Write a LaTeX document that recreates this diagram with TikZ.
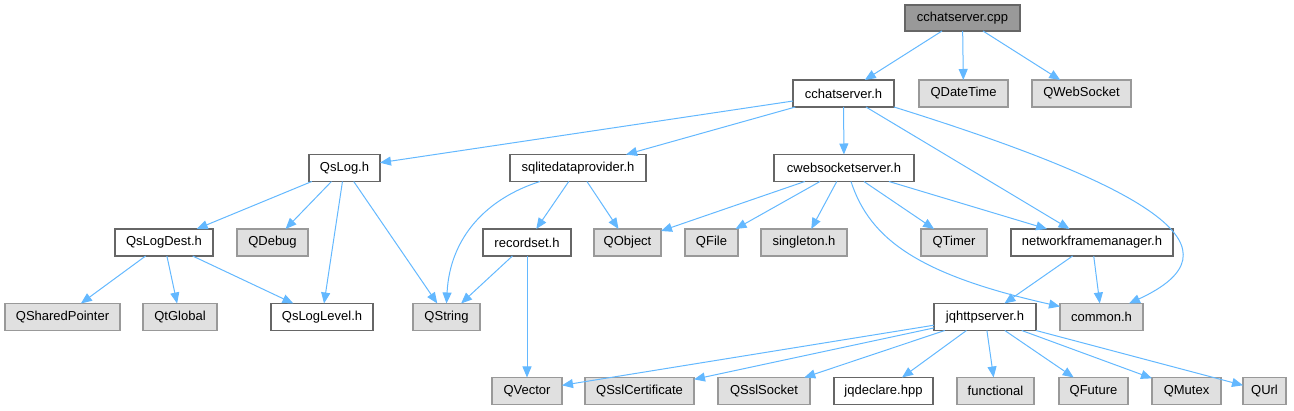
\documentclass[tikz,border=0pt]{standalone}
\usepackage{fontspec}
\setmainfont{Liberation Sans}
\usetikzlibrary{arrows.meta}

\definecolor{edgeblue}{HTML}{63B8FF}
\definecolor{extfill}{HTML}{E0E0E0}
\definecolor{extline}{HTML}{999999}
\definecolor{rootfill}{HTML}{999999}
\definecolor{fileline}{HTML}{666666}

\begin{document}
\begin{tikzpicture}[
  x=1pt, y=-1pt,
  box/.style={draw=fileline, line width=1.2pt, fill=#1, inner sep=0pt, outer sep=0pt,
              minimum height=27pt, font=\fontsize{13}{15}\selectfont},
  box/.default=white,
  ext/.style={box=extfill, draw=extline},
  root/.style={box=rootfill},
  arr/.style={-{Triangle[length=11pt,width=9pt]}, draw=edgeblue, line width=1pt}]
\useasboundingbox (0,0) rectangle (1294,411);
% row 1
\node[root, minimum width=115pt, minimum height=26pt] (cpp) at (962.5,18) {cchatserver.cpp};
% row 2
\node[box, minimum width=101pt] (chs) at (843.5,93.5) {cchatserver.h};
\node[ext, minimum width=89pt] (qdatetime) at (963.5,93.5) {QDateTime};
\node[ext, minimum width=99pt] (qwebsocket) at (1081.5,93.5) {QWebSocket};
% row 3
\node[box, minimum width=71pt] (qslog) at (344.5,168) {QsLog.h};
\node[box, minimum width=136pt] (sqlite) at (578,168) {sqlitedataprovider.h};
\node[box, minimum width=140pt] (cws) at (844,168) {cwebsocketserver.h};
% row 4
\node[box, minimum width=98pt] (qslogdest) at (164,242.5) {QsLogDest.h};
\node[ext, minimum width=71pt] (qdebug) at (272.5,242.5) {QDebug};
\node[box, minimum width=88pt] (recordset) at (527,242.5) {recordset.h};
\node[ext, minimum width=67pt] (qobject) at (627.5,242.5) {QObject};
\node[ext, minimum width=53pt] (qfile) at (711.5,242.5) {QFile};
\node[ext, minimum width=86pt] (singleton) at (804,242.5) {singleton.h};
\node[ext, minimum width=66pt] (qtimer) at (954,242.5) {QTimer};
\node[box, minimum width=162pt] (nfm) at (1092,242.5) {networkframemanager.h};
% row 5
\node[ext, minimum width=115pt] (qsharedptr) at (62.5,317) {QSharedPointer};
\node[ext, minimum width=74pt] (qtglobal) at (180,317) {QtGlobal};
\node[box, minimum width=102pt] (qsloglevel) at (322,317) {QsLogLevel.h};
\node[ext, minimum width=67pt] (qstring) at (446.5,317) {QString};
\node[box, minimum width=102pt] (jqhttp) at (985,317) {jqhttpserver.h};
\node[ext, minimum width=83pt] (common) at (1101.5,317) {common.h};
% row 6
\node[ext, minimum width=70pt] (qvector) at (527,391) {QVector};
\node[ext, minimum width=109pt] (qsslcert) at (639.5,391) {QSslCertificate};
\node[ext, minimum width=92pt] (qsslsocket) at (764,391) {QSslSocket};
\node[box, minimum width=99pt] (jqdeclare) at (883.5,391) {jqdeclare.hpp};
\node[ext, minimum width=77pt] (functional) at (995.5,391) {functional};
\node[ext, minimum width=69pt] (qfuture) at (1093.5,391) {QFuture};
\node[ext, minimum width=69pt] (qmutex) at (1186.5,391) {QMutex};
\node[ext, minimum width=43pt] (qurl) at (1264.5,391) {QUrl};
% includes
\draw[arr] (cpp) -- (chs);
\draw[arr] (cpp) -- (qdatetime);
\draw[arr] (cpp) -- (qwebsocket);
\draw[arr] (chs) -- (qslog);
\draw[arr] (chs) -- (sqlite);
\draw[arr] (chs) -- (cws);
\draw[arr] (chs) -- (nfm);
\draw[arr] (chs.south east) .. controls (1160,190) and (1245,250) .. ([xshift=-14pt]common.north east);
\draw[arr] (qslog) -- (qslogdest);
\draw[arr] (qslog) -- (qdebug);
\draw[arr] (qslog) -- (qsloglevel);
\draw[arr] (qslog) -- (qstring);
\draw[arr] ([xshift=-38pt]sqlite.south) .. controls (488,198) and (450,236) .. (qstring.north);
\draw[arr] (sqlite) -- (recordset);
\draw[arr] (sqlite) -- (qobject);
\draw[arr] (cws) -- (qobject);
\draw[arr] (cws) -- (qfile);
\draw[arr] (cws) -- (singleton);
\draw[arr] ([xshift=7pt]cws.south) .. controls (870,240) and (920,275) .. ([yshift=-3pt]common.north west);
\draw[arr] (cws) -- (qtimer);
\draw[arr] (cws) -- (nfm);
\draw[arr] (qslogdest) -- (qsharedptr);
\draw[arr] (qslogdest) -- (qtglobal);
\draw[arr] (qslogdest) -- (qsloglevel);
\draw[arr] (recordset) -- (qstring);
\draw[arr] (recordset) -- (qvector);
\draw[arr] (nfm) -- (jqhttp);
\draw[arr] (nfm) -- (common);
\foreach \dst in {qvector,qsslcert,qsslsocket,jqdeclare,functional,qfuture,qmutex,qurl}
  \draw[arr] (jqhttp) -- (\dst);
\end{tikzpicture}
\end{document}
